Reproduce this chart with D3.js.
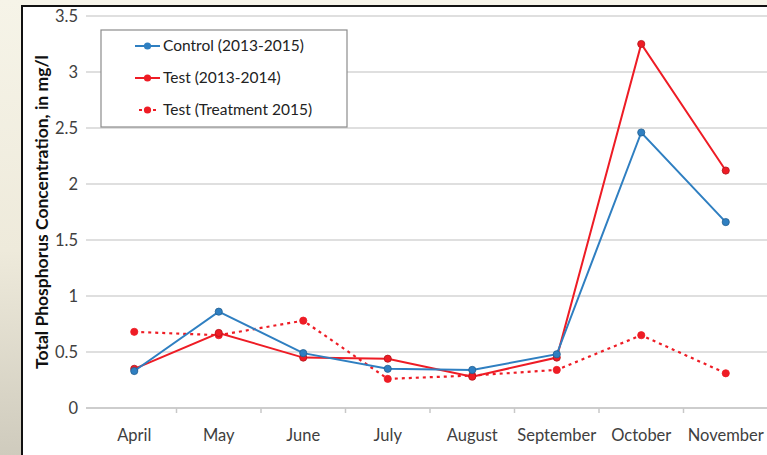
<!DOCTYPE html>
<html>
<head>
<meta charset="utf-8">
<script src="https://cdn.jsdelivr.net/npm/d3@7"></script>
<style>
  body { margin: 0; background: #f6f4e9; }
  svg { display: block; font-family: Lato, "Open Sans", sans-serif; }
</style>
</head>
<body>
<div id="chart"></div>
<script>
const months = ["April", "May", "June", "July", "August", "September", "October", "November"];
const control = [0.33, 0.86, 0.49, 0.35, 0.34, 0.48, 2.46, 1.66];
const test1314 = [0.35, 0.67, 0.45, 0.44, 0.28, 0.45, 3.25, 2.12];
const test2015 = [0.68, 0.65, 0.78, 0.26, 0.29, 0.34, 0.65, 0.31];
const yTicks = [0, 0.5, 1, 1.5, 2, 2.5, 3, 3.5];

const series = [
  {name: "Control (2013-2015)", values: control, color: "#2f7fc1", dash: null},
  {name: "Test (2013-2014)", values: test1314, color: "#ee1c25", dash: null},
  {name: "Test (Treatment 2015)", values: test2015, color: "#ee1c25", dash: "3,4"}
];

const width = 767, height = 455;
const svg = d3.select("#chart").append("svg")
  .attr("width", width)
  .attr("height", height);

// beige slide background with darker left edge
let defs = svg.append("defs");
let grad = defs.append("linearGradient").attr("id", "bg")
  .attr("x1", 0).attr("y1", 0).attr("x2", 0).attr("y2", 1);
grad.append("stop").attr("offset", "0%").attr("stop-color", "#f6f4e8");
grad.append("stop").attr("offset", "55%").attr("stop-color", "#eeeadb");
grad.append("stop").attr("offset", "100%").attr("stop-color", "#cfcbbd");
svg.append("rect").attr("width", width).attr("height", height).attr("fill", "#f6f4e9");
svg.append("rect").attr("x", 0).attr("y", 0).attr("width", 23).attr("height", height).attr("fill", "url(#bg)");

// white chart frame
svg.append("rect")
  .attr("x", 22).attr("y", 6)
  .attr("width", width).attr("height", height)
  .attr("fill", "#fff")
  .attr("stroke", "#111")
  .attr("stroke-width", 2);

const margin = {left: 92, right: 0, top: 16, bottom: 47};
const x = d3.scaleBand().domain(months).range([margin.left, 768]);
const y = d3.scaleLinear().domain([0, 3.5]).range([height - margin.bottom - 0, margin.top]);

// gridlines
svg.append("g")
  .selectAll("line")
  .data(yTicks)
  .enter().append("line")
  .attr("x1", margin.left - 6)
  .attr("x2", width)
  .attr("y1", d => y(d))
  .attr("y2", d => y(d))
  .attr("stroke", d => d === 0 ? "#bdbdbd" : "#d4d4d4")
  .attr("stroke-width", 1.5);

// y tick labels
svg.append("g")
  .selectAll("text")
  .data(yTicks)
  .enter().append("text")
  .attr("x", margin.left - 14)
  .attr("y", d => y(d))
  .attr("dy", "0.35em")
  .attr("text-anchor", "end")
  .attr("fill", "#404040")
  .style("font-size", "16.5px")
  .text(d => d);

// x axis ticks and labels
const xAxis = d3.axisBottom(x).tickSize(0).tickPadding(21);
let gx = svg.append("g")
  .attr("transform", "translate(0," + y(0) + ")")
  .call(xAxis);
gx.select(".domain").remove();
gx.selectAll("text").attr("fill", "#404040").style("font-size", "16.5px").style("font-family", "Lato, sans-serif");

svg.append("g")
  .selectAll("line")
  .data(months.slice(1))
  .enter().append("line")
  .attr("x1", d => x(d))
  .attr("x2", d => x(d))
  .attr("y1", y(0))
  .attr("y2", y(0) + 5)
  .attr("stroke", "#c8c8c8")
  .attr("stroke-width", 1.5);

// y axis title
svg.append("text")
  .attr("transform", "translate(42," + ((y(0) + y(3.5)) / 2) + ") rotate(-90)")
  .attr("dy", "0.35em")
  .attr("text-anchor", "middle")
  .attr("fill", "#111")
  .style("font-size", "17.5px")
  .style("font-weight", "bold")
  .text("Total Phosphorus Concentration, in mg/l");

// lines
const line = d3.line()
  .x((d, i) => x(months[i]) + x.bandwidth() / 2)
  .y(d => y(d));

series.slice().reverse().forEach(s => {
  svg.append("path")
    .datum(s.values)
    .attr("fill", "none")
    .attr("stroke", s.color)
    .attr("stroke-width", s.dash ? 2.2 : 2)
    .attr("stroke-dasharray", s.dash)
    .attr("d", line);
  svg.append("g")
    .selectAll("circle")
    .data(s.values)
    .enter().append("circle")
    .attr("cx", (d, i) => x(months[i]) + x.bandwidth() / 2)
    .attr("cy", d => y(d))
    .attr("r", 3.6)
    .attr("fill", s.color)
    .attr("stroke", s.dash ? s.color : d3.color(s.color).darker(0.8))
    .attr("stroke-width", 0.8);
});

// legend
let legend = svg.append("g");
legend.append("rect")
  .attr("x", 101).attr("y", 30)
  .attr("width", 246).attr("height", 97)
  .attr("fill", "#fff")
  .attr("stroke", "#8c8c8c")
  .attr("stroke-width", 1.2);

series.forEach((s, i) => {
  let ly = 46 + i * 32;
  legend.append("line")
    .attr("x1", s.dash ? 139 : 135).attr("x2", 160)
    .attr("y1", ly).attr("y2", ly)
    .attr("stroke", s.color)
    .attr("stroke-width", 2)
    .attr("stroke-dasharray", s.dash);
  legend.append("circle")
    .attr("cx", 147.5).attr("cy", ly)
    .attr("r", 3.6)
    .attr("fill", s.color);
  legend.append("text")
    .attr("x", 163).attr("y", ly)
    .attr("dy", "0.35em")
    .attr("fill", "#222")
    .style("font-size", "15.5px")
    .text(s.name);
});
</script>
</body>
</html>
